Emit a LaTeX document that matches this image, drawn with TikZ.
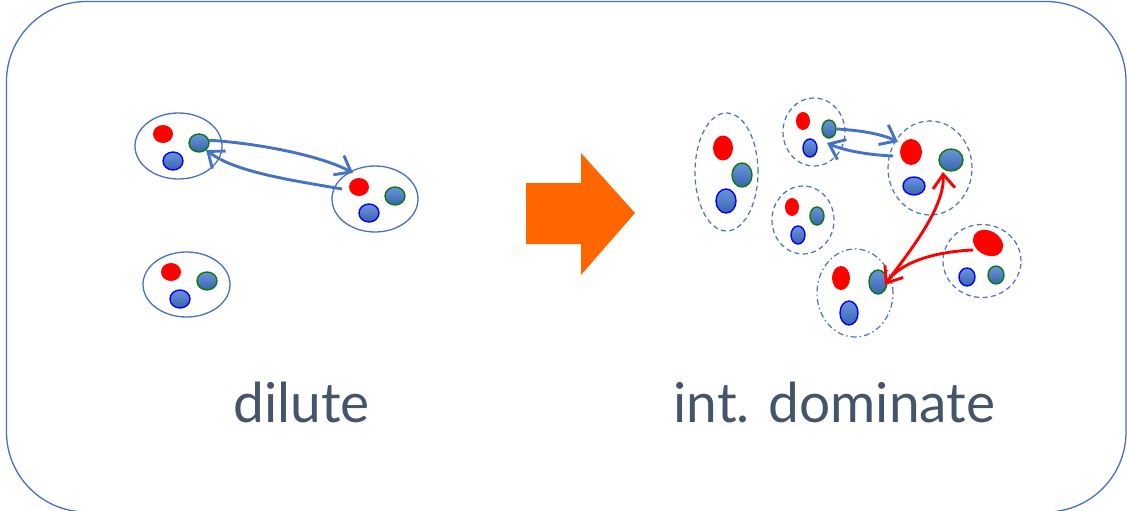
\documentclass[tikz,border=0pt]{standalone}
\usepackage{fontspec}
\setmainfont{Lato}
\usetikzlibrary{shapes.geometric,arrows.meta}
\definecolor{frameblue}{HTML}{4472C4}
\definecolor{textslate}{HTML}{44546A}
\definecolor{dotlight}{HTML}{6A95DA}
\definecolor{dotdark}{HTML}{3A63AE}
\definecolor{ringgreen}{HTML}{0A7A0A}
\definecolor{arroworange}{HTML}{FF6600}
\tikzset{
  dims/.style 2 args={minimum width=#1, minimum height=#2},
  grp/.style={ellipse, draw=frameblue, line width=1.3pt, inner sep=0pt},
  grpdash/.style={grp, line width=1.2pt, dash pattern=on 5pt off 3.5pt},
  grpdashdot/.style={grp, line width=1.2pt, dash pattern=on 6pt off 3pt on 1.5pt off 3pt},
  reddot/.style={ellipse, fill=red, inner sep=0pt},
  bluedot/.style={ellipse, inner sep=0pt, top color=dotlight, bottom color=dotdark,
                  draw=blue, line width=1.4pt},
  greendot/.style={bluedot, draw=ringgreen},
  bluearrow/.style={draw=frameblue, line width=2.9pt,
                    -{Straight Barb[length=14pt,width=22pt]}},
  redarrow/.style={draw=red, line width=2.9pt,
                   -{Straight Barb[length=14pt,width=22pt]}},
  lbl/.style={text=textslate, font=\fontsize{55}{60}\selectfont, anchor=base, inner sep=0pt},
}
\begin{document}
\begin{tikzpicture}[x=1pt,y=-1pt]
\useasboundingbox (0,0) rectangle (1127,511);
% outer frame
\draw[frameblue, line width=1.3pt, rounded corners=80pt] (6.5,1.5) rectangle (1126,512);

% ---- dilute regime ----
\node[grp, dims={87}{66}] (g1) at (178.5,146) {};
\node[reddot, dims={20}{18}] (g1r) at (163,134) {};
\node[greendot, dims={20}{18}] (g1g) at (199,143) {};
\node[bluedot, dims={20}{18}] (g1b) at (173,161) {};

\node[grp, dims={86}{66}] (g2) at (375,199) {};
\node[reddot, dims={20}{18}] (g2r) at (359,187) {};
\node[greendot, dims={20}{18}] (g2g) at (395,196) {};
\node[bluedot, dims={20}{18}] (g2b) at (369,213) {};

\node[grp, dims={87}{65}] (g3) at (186.5,284.5) {};
\node[reddot, dims={20}{18}] (g3r) at (171,272) {};
\node[greendot, dims={20}{18}] (g3g) at (207,281) {};
\node[bluedot, dims={20}{18}] (g3b) at (180,299) {};

\coordinate (a1tip) at (353,173);
\coordinate (a2tail) at (342,189);
\coordinate (a2tip) at (206,150);
\draw[bluearrow] (g1g.15) .. controls (255,143) and (320,155) .. (a1tip);
\draw[bluearrow] (a2tail) .. controls (290,180) and (235,172) .. (a2tip);

% ---- transition arrow ----
\fill[arroworange] (526,183) -- (581,183) -- (581,153) -- (635,213)
  -- (581,275) -- (581,244) -- (526,244) -- cycle;

% ---- interaction-dominated regime ----
\node[grpdash, dims={63}{118}] (ea) at (726.5,172) {};
\node[reddot, dims={20}{25}] (ear) at (723,148) {};
\node[greendot, dims={20}{24}] (eag) at (742,175) {};
\node[bluedot, dims={20}{24}] (eab) at (726,201) {};

\node[grpdash, dims={62}{68}] (eb) at (814,132) {};
\node[reddot, dims={14}{18}] (ebr) at (803,121) {};
\node[greendot, dims={14}{18}] (ebg) at (829,129) {};
\node[bluedot, dims={14}{18}] (ebb) at (810,148) {};

\node[grpdash, dims={84}{94}] (ec) at (930,168) {};
\node[reddot, dims={22}{26}] (ecr) at (911,152) {};
\node[greendot, dims={24}{22}] (ecg) at (951,160) {};
\node[bluedot, dims={22}{18}] (ecb) at (914,186) {};

\node[grpdash, dims={62}{68}] (ed) at (803,220) {};
\node[reddot, dims={14}{18}] (edr) at (792,207) {};
\node[greendot, dims={14}{18}] (edg) at (817,216) {};
\node[bluedot, dims={14}{18}] (edb) at (798,235) {};

\node[grpdash, dims={78}{73}] (ee) at (982,261) {};
\node[reddot, dims={32}{24}, rotate=-30] (eer) at (988,243) {};
\node[bluedot, dims={16}{18}] (eeb) at (967,277) {};
\node[greendot, dims={16}{18}] (eeg) at (996,275) {};

\node[grpdashdot, dims={76}{88}] (ef) at (855,293) {};
\node[reddot, dims={18}{24}] (efr) at (841,278) {};
\node[greendot, dims={18}{24}] (efg) at (878,282) {};
\node[bluedot, dims={18}{24}] (efb) at (849,313) {};

\coordinate (b1tip) at (898,142);
\coordinate (b2tail) at (893,156);
\coordinate (b2tip) at (827,143);
\coordinate (r1tail) at (886,283);
\coordinate (r1tip) at (943,172);
\coordinate (r2tail) at (973,250);
\coordinate (r2tip) at (885,285);
\draw[bluearrow] (ebg.east) .. controls (855,130) and (880,133) .. (b1tip);
\draw[bluearrow] (b2tail) .. controls (870,155) and (845,151) .. (b2tip);
\draw[redarrow] (r1tail) .. controls (915,245) and (945,205) .. (r1tip);
\draw[redarrow] (r2tail) .. controls (930,252) and (899,264) .. (r2tip);

% ---- labels ----
\node[lbl] (dil) at (301.5,422) {dilute};
\node[lbl] (dom) at (834.5,422) {int. dominate};
\end{tikzpicture}
\end{document}
